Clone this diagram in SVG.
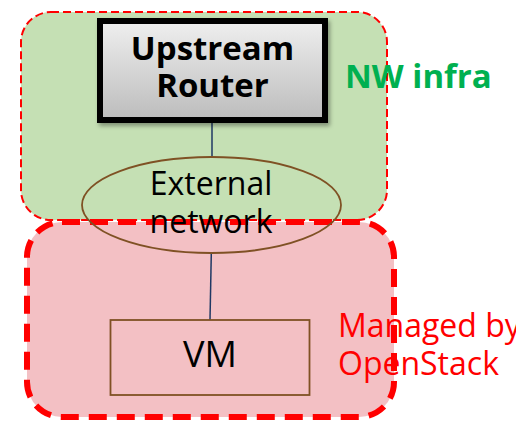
<svg xmlns="http://www.w3.org/2000/svg" width="516" height="421" viewBox="0 0 516 421">
<defs>
<linearGradient id="rg" x1="0" y1="0" x2="0" y2="1">
<stop offset="0" stop-color="#efefef"/>
<stop offset="1" stop-color="#bcbcbc"/>
</linearGradient>
<filter id="sh" x="-10%" y="-10%" width="130%" height="140%">
<feDropShadow dx="2" dy="3" stdDeviation="2" flood-color="#000" flood-opacity="0.35"/>
</filter>
<style>
.t{font-family:"Open Sans","DejaVu Sans",sans-serif;font-size:32px;text-anchor:middle}
.b{font-weight:bold;font-size:33px}
.conn{stroke:#1f3864;stroke-width:1.5;fill:none}
</style>
</defs>
<g id="nw-infra">
<rect x="21" y="12" width="366" height="208" rx="30" fill="#c5e0b4" stroke="#ff0000" stroke-width="2" stroke-dasharray="8,4"/>
<text class="t b" x="345" y="88" fill="#00b050" style="text-anchor:start">NW infra</text>
</g>
<g id="openstack">
<rect x="27" y="222" width="367" height="195" rx="35" fill="#f3c0c4" stroke="#ff0000" stroke-width="6" stroke-dasharray="18,10"/>
<text class="t" x="338" y="337" fill="#ff0000" style="text-anchor:start">Managed by</text>
<text class="t" x="338" y="375" fill="#ff0000" style="text-anchor:start">OpenStack</text>
</g>
<g id="connectors">
<line class="conn" x1="212" y1="123" x2="212" y2="157"/>
<line class="conn" x1="211.3" y1="253" x2="210" y2="320"/>
</g>
<g id="router">
<rect x="100" y="21" width="225" height="99" fill="url(#rg)" stroke="#000" stroke-width="6" filter="url(#sh)"/>
<text class="t b" x="212.5" y="60" fill="#000">Upstream</text>
<text class="t b" x="212.5" y="97" fill="#000">Router</text>
</g>
<g id="external-network">
<ellipse cx="211.5" cy="205" rx="129.5" ry="48" fill="none" stroke="#7f5124" stroke-width="1.8"/>
<text class="t" x="211" y="195" fill="#000">External</text>
<text class="t" x="211" y="233" fill="#000">network</text>
</g>
<g id="vm">
<rect x="110.5" y="320" width="199" height="75" fill="none" stroke="#7f5124" stroke-width="1.8"/>
<text class="t" x="210" y="367" fill="#000" style="font-size:36px">VM</text>
</g>
</svg>
